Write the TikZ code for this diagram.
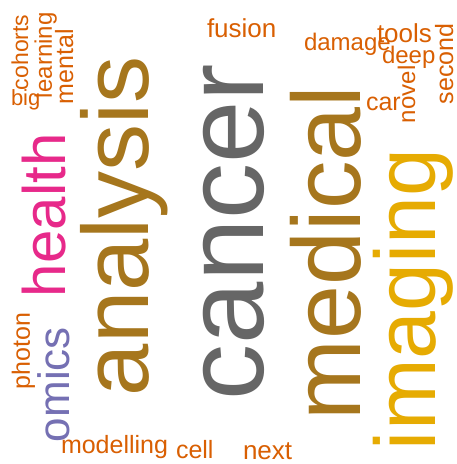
\documentclass[tikz,border=0pt]{standalone}
\usepackage{fontspec}
\setmainfont{Liberation Sans}
\definecolor{cgray}{HTML}{666666}
\definecolor{cbrown}{HTML}{A6761D}
\definecolor{cgold}{HTML}{E6AB02}
\definecolor{cpink}{HTML}{E7298A}
\definecolor{cblue}{HTML}{7570B3}
\definecolor{corange}{HTML}{D95F02}
\tikzset{
  word/.style={inner sep=0pt, outer sep=0pt, anchor=base west},
  vword/.style={word, rotate=90},
  fs/.style={font=\fontsize{#1}{#1}\selectfont},
  small/.style={text=corange}
}
\begin{document}
\begin{tikzpicture}[x=1pt,y=1pt]
\useasboundingbox[fill=white] (0,0) rectangle (457,-464);
% big words
\node[vword, fs=112, text=cgray] (cancer) at (263,-400) {cancer};
\node[vword, fs=94, text=cbrown] (analysis) at (148,-396) {analysis};
\node[vword, fs=97, text=cbrown] (medical) at (360,-420) {medical};
\node[vword, fs=86, text=cgold] (imaging) at (435,-450) {imaging};
\node[vword, fs=60, text=cpink] (health) at (65,-297) {health};
\node[vword, fs=44, text=cblue] (omics) at (70,-442) {omics};
% small rotated words
\node[vword, fs=25, small] (photon) at (30,-389) {photon};
\node[vword, fs=25, small] (second) at (453,-104) {second};
\node[vword, fs=24, small] (novel) at (415,-123) {novel};
\node[vword, fs=23, small] (cohorts) at (28,-90) {cohorts};
\node[vword, fs=24, small] (learning) at (52,-98) {learning};
\node[vword, fs=25, small] (mental) at (73,-104) {mental};
% small horizontal words
\node[word, fs=25, small] (modelling) at (61,-453) {modelling};
\node[word, fs=25, small] (cell) at (176,-458) {cell};
\node[word, fs=26, small] (next) at (243,-459) {next};
\node[word, fs=26, small] (fusion) at (207,-37) {fusion};
\node[word, fs=24, small] (damage) at (304,-50) {damage};
\node[word, fs=26, small] (tools) at (377,-42) {tools};
\node[word, fs=24, small] (deep) at (382,-63) {deep};
\node[word, fs=25, small] (car) at (366,-110) {car};
\node[word, fs=22, small] (big) at (11,-105) {big};
\end{tikzpicture}
\end{document}
